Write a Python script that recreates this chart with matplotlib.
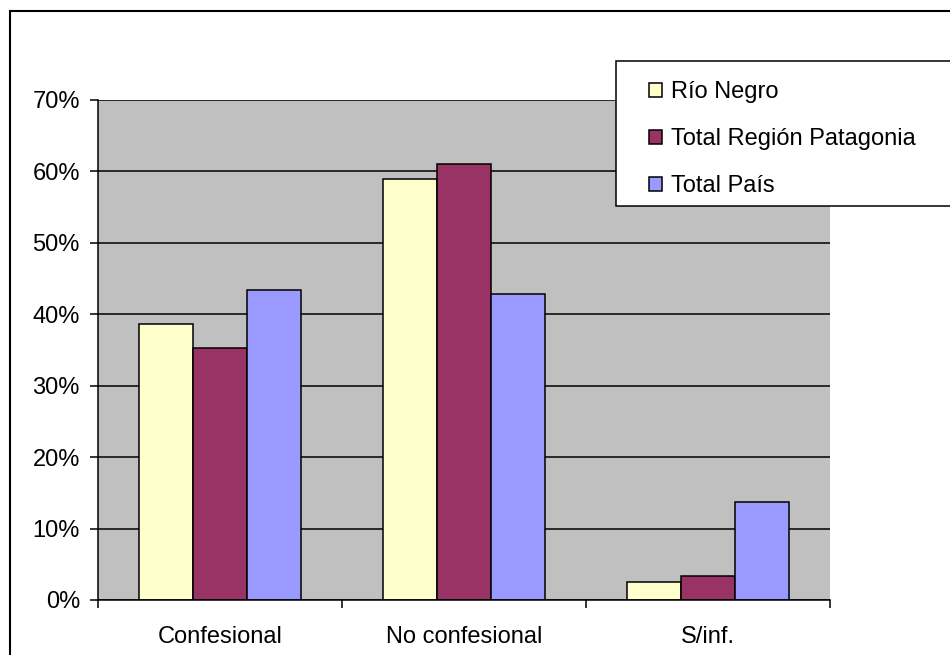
import matplotlib.pyplot as plt
from matplotlib.patches import Rectangle
import numpy as np

categories = ['Confesional', 'No confesional', 'S/inf.']
series = ['Río Negro', 'Total Región Patagonia', 'Total País']
rio_negro = [38.7, 58.9, 2.5]
patagonia = [35.3, 61.1, 3.3]
total_pais = [43.4, 42.9, 13.7]
yticks = [0, 10, 20, 30, 40, 50, 60, 70]

colors = ['#FFFFCC', '#993366', '#9999FF']

plt.rcParams['font.family'] = ['Liberation Sans', 'DejaVu Sans']
fs = 17

W, H = 950, 655
fig = plt.figure(figsize=(9.5, 6.55), dpi=100)

# outer chart frame (cut off at right and bottom)
fig.patches.append(Rectangle((10 / W, -0.1), 2.0, 1 - 11 / H + 0.1, transform=fig.transFigure,
                             fill=False, edgecolor='black', linewidth=1.5, zorder=0))

ax = fig.add_axes([98 / W, 55 / H, 732 / W, 500 / H])
ax.set_facecolor('#C0C0C0')

x = np.arange(len(categories))
bw = 1 / 4.5
for i, (vals, c, lab) in enumerate(zip([rio_negro, patagonia, total_pais], colors, series)):
    ax.bar(x + (i - 1) * bw, vals, width=bw, color=c, edgecolor='black', linewidth=1.1,
           label=lab, zorder=3)

ax.set_xlim(-0.5, 2.5)
ax.set_ylim(0, 70)
ax.set_yticks(yticks)
ax.set_yticklabels([f'{v}%' for v in yticks])
ax.set_xticks([-0.5, 0.5, 1.5, 2.5], minor=False)
ax.set_xticklabels([])
ax.set_xticks(x, minor=True)
ax.set_xticklabels(categories, minor=True)
ax.tick_params(axis='x', which='major', direction='out', length=6, width=1.1)
ax.tick_params(axis='x', which='minor', length=0, pad=19, labelsize=fs)
ax.tick_params(axis='y', direction='out', length=6, width=1.1, pad=7, labelsize=fs)
ax.yaxis.grid(True, color='black', linewidth=1.1, zorder=1)
ax.set_axisbelow(True)
for s in ['top', 'right']:
    ax.spines[s].set_visible(False)
for s in ['left', 'bottom']:
    ax.spines[s].set_linewidth(1.1)
    ax.spines[s].set_zorder(4)

# legend box
fig.patches.append(Rectangle((616 / W, 1 - 206 / H), 1.0, 145 / H, transform=fig.transFigure,
                             facecolor='white', edgecolor='black', linewidth=1.1, zorder=5))
leg = fig.legend(loc='upper left', bbox_to_anchor=(640 / W, 1 - 72 / H), frameon=False,
                 fontsize=fs, handlelength=0.55, handleheight=0.55, handletextpad=0.35,
                 labelspacing=1.05, borderaxespad=0)
leg.set_zorder(6)

fig.savefig('out.png', dpi=100)
